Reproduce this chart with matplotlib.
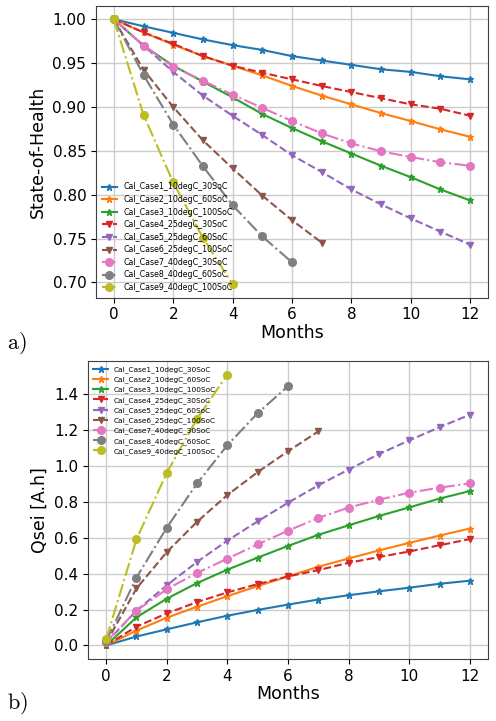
"""Calendar ageing: state-of-health and SEI capacity loss for nine storage cases."""
import numpy as np
import matplotlib
matplotlib.use("Agg")
import matplotlib.pyplot as plt

LABELS = ["Cal_Case1_10degC_30SoC", "Cal_Case2_10degC_60SoC", "Cal_Case3_10degC_100SoC",
          "Cal_Case4_25degC_30SoC", "Cal_Case5_25degC_60SoC", "Cal_Case6_25degC_100SoC",
          "Cal_Case7_40degC_30SoC", "Cal_Case8_40degC_60SoC", "Cal_Case9_40degC_100SoC"]

# state-of-health per month
SOH_1 = [1.0, 0.992, 0.9845, 0.977, 0.9705, 0.965, 0.958, 0.953, 0.948, 0.943, 0.940, 0.935, 0.9315]
SOH_2 = [1.0, 0.985, 0.971, 0.958, 0.947, 0.936, 0.924, 0.913, 0.903, 0.893, 0.884, 0.8745, 0.866]
SOH_3 = [1.0, 0.970, 0.947, 0.929, 0.911, 0.892, 0.876, 0.861, 0.847, 0.833, 0.820, 0.806, 0.7935]
SOH_4 = [1.0, 0.985, 0.972, 0.958, 0.947, 0.939, 0.9315, 0.924, 0.917, 0.910, 0.903, 0.898, 0.890]
SOH_5 = [1.0, 0.970, 0.940, 0.913, 0.890, 0.868, 0.845, 0.826, 0.806, 0.789, 0.773, 0.758, 0.743]
SOH_6 = [1.0, 0.9425, 0.900, 0.862, 0.830, 0.799, 0.771, 0.7455]
SOH_7 = [1.0, 0.970, 0.946, 0.930, 0.914, 0.899, 0.884, 0.870, 0.8585, 0.8495, 0.843, 0.837, 0.833]
SOH_8 = [1.0, 0.9365, 0.880, 0.8325, 0.788, 0.7525, 0.723]
SOH_9 = [1.0, 0.891, 0.814, 0.751, 0.698]

# SEI capacity loss [A.h] per month
Q_1 = [0.0, 0.05, 0.09, 0.129, 0.166, 0.198, 0.228, 0.256, 0.28, 0.302, 0.322, 0.344, 0.361]
Q_2 = [0.0, 0.083, 0.155, 0.216, 0.275, 0.331, 0.385, 0.439, 0.485, 0.53, 0.572, 0.613, 0.652]
Q_3 = [0.0, 0.157, 0.261, 0.348, 0.423, 0.49, 0.555, 0.617, 0.67, 0.722, 0.77, 0.819, 0.861]
Q_4 = [0.0, 0.105, 0.179, 0.242, 0.296, 0.342, 0.385, 0.42, 0.461, 0.493, 0.524, 0.559, 0.593]
Q_5 = [0.015, 0.194, 0.336, 0.466, 0.585, 0.692, 0.796, 0.893, 0.981, 1.067, 1.144, 1.217, 1.287]
Q_6 = [0.015, 0.318, 0.521, 0.69, 0.839, 0.967, 1.083, 1.194]
Q_7 = [0.02, 0.194, 0.314, 0.405, 0.484, 0.564, 0.64, 0.711, 0.769, 0.813, 0.852, 0.88, 0.904]
Q_8 = [0.025, 0.379, 0.657, 0.904, 1.117, 1.296, 1.446]
Q_9 = [0.035, 0.592, 0.963, 1.265, 1.511]

SOH = [SOH_1, SOH_2, SOH_3, SOH_4, SOH_5, SOH_6, SOH_7, SOH_8, SOH_9]
QSEI = [Q_1, Q_2, Q_3, Q_4, Q_5, Q_6, Q_7, Q_8, Q_9]

STYLES = [("-", "*", 4.5)] * 3 + [("--", "v", 5)] * 3 + [("-.", "o", 5.5)] * 3


def draw(ax, series, ylabel, legend_loc, legend_fs):
    for i, (vals, lab) in enumerate(zip(series, LABELS)):
        ls, mk, ms = STYLES[i]
        ax.plot(np.arange(len(vals)), vals, color=f"C{i}", ls=ls, marker=mk, ms=ms, lw=1.5, label=lab)
    ax.set_xticks(range(0, 13, 2))
    ax.grid(True, color="0.8", lw=1.0)
    ax.set_axisbelow(True)
    ax.set_xlabel("Months", fontsize=12.5, labelpad=1)
    ax.set_ylabel(ylabel, fontsize=12.5)
    ax.tick_params(labelsize=11)
    for s in ax.spines.values():
        s.set_color("0.25")
    ax.legend(loc=legend_loc, fontsize=legend_fs, frameon=False, handlelength=2.0,
              labelspacing=0.45, borderaxespad=0.3)


fig = plt.figure(figsize=(4.96, 7.21), dpi=100)
W, H = 496, 721
ax1 = fig.add_axes([96 / W, 1 - 297.5 / H, (488 - 96) / W, (297.5 - 6) / H])
ax2 = fig.add_axes([88 / W, 1 - 659 / H, (488 - 88) / W, (659 - 361) / H])

draw(ax1, SOH, "State-of-Health", "lower left", 5.7)
ax1.set_yticks(np.arange(0.70, 1.001, 0.05))
ax1.yaxis.set_major_formatter(matplotlib.ticker.FormatStrFormatter("%.2f"))

draw(ax2, QSEI, "Qsei [A.h]", "upper left", 5.3)
ax2.set_yticks(np.arange(0.0, 1.41, 0.2))
ax2.yaxis.set_major_formatter(matplotlib.ticker.FormatStrFormatter("%.1f"))

fig.text(7 / W, 1 - 343 / H, r"$\mathrm{a)}$", fontsize=16, va="center", math_fontfamily="cm")
fig.text(7 / W, 1 - 703 / H, r"$\mathrm{b)}$", fontsize=16, va="center", math_fontfamily="cm")

fig.savefig("out.png", dpi=100)
